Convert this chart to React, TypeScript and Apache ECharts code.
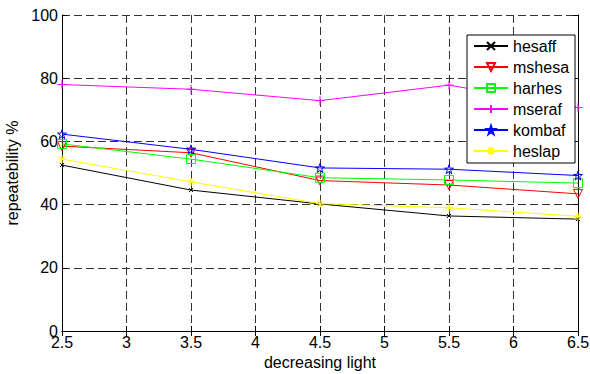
import React, { useEffect, useRef } from "react";
import * as echarts from "echarts";

const xValues = [2.5, 3.5, 4.5, 5.5, 6.5];
const hesaff = [52.5, 44.6, 40.2, 36.4, 35.4];
const mshesa = [58.5, 56.4, 47.6, 46.2, 43.4];
const harhes = [59.2, 54.4, 48.5, 47.8, 46.8];
const mseraf = [78.0, 76.5, 72.9, 77.8, 70.7];
const kombaf = [62.3, 57.5, 51.6, 51.2, 49.2];
const heslap = [54.4, 47.2, 40.3, 39.0, 36.3];

const FONT = "Liberation Sans";
const FS = 16;

const asterisk = "path://M5 0 L5 10 M0 5 L10 5 M1.5 1.5 L8.5 8.5 M1.5 8.5 L8.5 1.5";
const xmark = "path://M0 0 L10 10 M0 10 L10 0";
const plus = "path://M5 0 L5 10 M0 5 L10 5";
const downTri = "path://M0 0 L10 0 L5 9 Z";
const square = "path://M0 0 L10 0 L10 10 L0 10 Z";
const pentagram =
  "path://M5 0 L6.18 3.62 L10 3.62 L6.91 5.86 L8.09 9.47 L5 7.24 L1.91 9.47 L3.09 5.86 L0 3.62 L3.82 3.62 Z";

function mk(name: string, data: number[], color: string, symbol: string, size: number, hollow: boolean) {
  return {
    name,
    type: "line",
    data: xValues.map((x, i) => [x, data[i]]),
    symbol,
    symbolSize: size,
    showAllSymbol: true,
    lineStyle: { color, width: 1 },
    itemStyle: {
      color: hollow ? "rgba(0,0,0,0)" : color,
      borderColor: color,
      borderWidth: 1,
    },
    z: 3,
  };
}

export default function App() {
  const ref = useRef<HTMLDivElement>(null);
  useEffect(() => {
    document.body.style.margin = "0";
    const chart = echarts.init(ref.current!, undefined, { renderer: "svg" });
    const gridLine = { show: true, lineStyle: { color: "#333", type: [8, 4] as any, width: 1 } };
    const axisLine = { show: true, lineStyle: { color: "#000", width: 1 } };
    const tick = { show: true, inside: true, length: 5, lineStyle: { color: "#000" } };
    chart.setOption({
      animation: false,
      backgroundColor: "#fff",
      grid: { left: 62, right: 12, top: 15, bottom: 43, outerBoundsMode: "none", containLabel: false },
      xAxis: [
        {
          type: "value",
          min: 2.5,
          max: 6.5,
          interval: 0.5,
          position: "bottom",
          axisLine,
          axisTick: tick,
          splitLine: gridLine,
          axisLabel: { color: "#000", fontFamily: FONT, fontSize: FS, margin: 3 },
          name: "decreasing light",
          nameLocation: "middle",
          nameGap: 20,
          nameTextStyle: { color: "#000", fontFamily: FONT, fontSize: FS },
        },
        {
          type: "value",
          min: 2.5,
          max: 6.5,
          interval: 0.5,
          position: "top",
          axisLine,
          axisTick: tick,
          splitLine: { show: false },
          axisLabel: { show: false },
        },
      ],
      yAxis: [
        {
          type: "value",
          min: 0,
          max: 100,
          interval: 20,
          position: "left",
          axisLine,
          axisTick: tick,
          splitLine: gridLine,
          axisLabel: { color: "#000", fontFamily: FONT, fontSize: FS, margin: 4 },
          name: "repeatebility %",
          nameLocation: "middle",
          nameGap: 34,
          nameTextStyle: { color: "#000", fontFamily: FONT, fontSize: FS },
        },
        {
          type: "value",
          min: 0,
          max: 100,
          interval: 20,
          position: "right",
          axisLine,
          axisTick: tick,
          splitLine: { show: false },
          axisLabel: { show: false },
        },
      ],
      legend: {
        orient: "vertical",
        left: 467,
        top: 35,
        width: 105,
        padding: [3, 6, 4, 6],
        itemGap: 5,
        itemWidth: 34,
        itemHeight: 10,
        borderColor: "#000",
        borderWidth: 1,
        backgroundColor: "#fff",
        borderRadius: 0,
        textStyle: { color: "#000", fontFamily: FONT, fontSize: FS },
        data: ["hesaff", "mshesa", "harhes", "mseraf", "kombaf", "heslap"],
      },
      series: [
        mk("hesaff", hesaff, "#000000", xmark, 4, false),
        mk("mshesa", mshesa, "#ff0000", downTri, 9, true),
        mk("harhes", harhes, "#00ff00", square, 9, true),
        mk("mseraf", mseraf, "#ff00ff", plus, 9, false),
        mk("kombaf", kombaf, "#0000ff", pentagram, 9, true),
        mk("heslap", heslap, "#ffff00", asterisk, 8, false),
      ],
    });
    return () => chart.dispose();
  }, []);
  return <div ref={ref} style={{ width: 590, height: 374 }} />;
}
